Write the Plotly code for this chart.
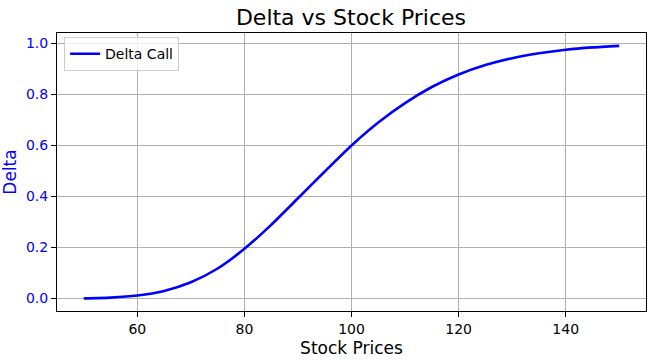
import plotly.graph_objects as go

stock_prices = [50, 55, 60, 65, 70, 75, 80, 85, 90, 95, 100,
                105, 110, 115, 120, 125, 130, 135, 140, 145, 150]
delta_call = [0.000, 0.003, 0.011, 0.029, 0.063, 0.117, 0.194, 0.288, 0.392, 0.497, 0.599,
              0.689, 0.765, 0.828, 0.877, 0.914, 0.941, 0.960, 0.974, 0.983, 0.989]
x_ticks = [60, 80, 100, 120, 140]
y_ticks = [0.0, 0.2, 0.4, 0.6, 0.8, 1.0]

FONT = "DejaVu Sans"

fig = go.Figure()
fig.add_trace(go.Scatter(
    x=stock_prices, y=delta_call, mode="lines", name="Delta Call",
    line=dict(color="#0000ff", width=2.6, shape="spline", smoothing=0.6),
))

W, H = 651, 361
fig.update_layout(
    width=W, height=H,
    margin=dict(l=57, r=5, t=33, b=50),
    paper_bgcolor="white", plot_bgcolor="white",
    font=dict(family=FONT, size=14, color="black"),
    title=dict(text="Delta vs Stock Prices", x=351 / W, xanchor="center",
               y=1 - 17 / H, yanchor="middle", yref="container",
               font=dict(family=FONT, size=22, color="black")),
    showlegend=True,
    legend=dict(x=0.012, y=0.985, xanchor="left", yanchor="top",
                bgcolor="rgba(255,255,255,0.8)", bordercolor="#cccccc", borderwidth=1,
                font=dict(family=FONT, size=14, color="black")),
)

fig.update_xaxes(
    range=[45, 155], tickvals=x_ticks, ticktext=[str(v) for v in x_ticks],
    showgrid=True, gridcolor="#b0b0b0", gridwidth=1,
    showline=True, linecolor="black", linewidth=1, mirror=True,
    ticks="outside", ticklen=5, tickcolor="black", tickwidth=1,
    tickfont=dict(family=FONT, size=14, color="black"),
    zeroline=False,
    title=dict(text="Stock Prices", standoff=6, font=dict(family=FONT, size=17, color="black")),
)
fig.update_yaxes(
    range=[-0.0495, 1.0395], tickvals=y_ticks, tickformat=".1f",
    showgrid=True, gridcolor="#b0b0b0", gridwidth=1,
    showline=True, linecolor="black", linewidth=1, mirror=True,
    ticks="outside", ticklen=5, tickcolor="black", tickwidth=1,
    tickfont=dict(family=FONT, size=14, color="#0000ff"),
    zeroline=False,
    title=dict(text="Delta", standoff=8, font=dict(family=FONT, size=17, color="#0000ff")),
)

fig.write_html("out.html", config={"displayModeBar": False},
               post_script="document.body.style.margin='0px';")
